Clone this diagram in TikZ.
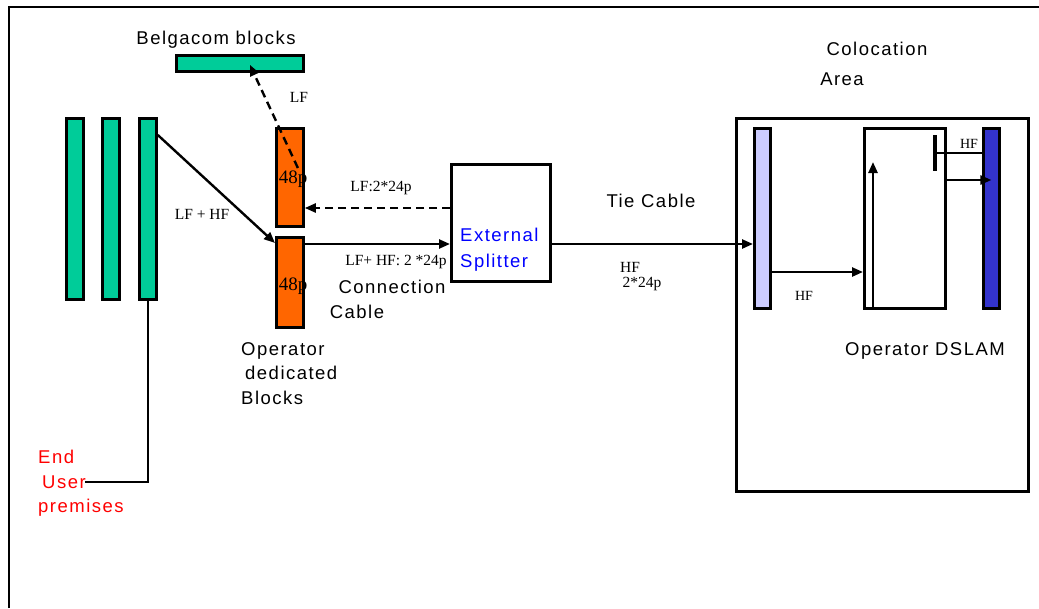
\documentclass[tikz,border=0pt]{standalone}
\usepackage{fontspec}
\setmainfont{Liberation Sans}[LetterSpace=8]
\newfontfamily\smallserif{Liberation Serif}
\usetikzlibrary{positioning, arrows.meta, calc}
\definecolor{blockgreen}{HTML}{00CC99}
\definecolor{blockorange}{HTML}{FF6600}
\definecolor{lilac}{HTML}{CCCCFF}
\definecolor{dslamblue}{HTML}{3333CC}

\begin{document}
\begin{tikzpicture}[
 x=1pt, y=-1pt,
 block/.style={draw, rectangle, line width=2.8pt, inner sep=0pt, anchor=north west},
 greenblock/.style={block, fill=blockgreen},
 orangeblock/.style={block, fill=blockorange},
 txt/.style={inner sep=0pt, font=\fontsize{18.5}{24.5}\selectfont},
 smalltxt/.style={inner sep=0pt, font=\smallserif\fontsize{15.5}{18}\selectfont},
 arrow/.style={-{Triangle[length=11pt, width=9pt]}, line width=2.4pt},
 dasharrow/.style={arrow, dash pattern=on 8pt off 5pt},
 simplearrow/.style={-, line width=2.4pt}
 ]

  \useasboundingbox (0,0) rectangle (1039,608);

  % Page frame
  \draw[line width=2.4pt] (9,608) -- (9,7) -- (1039,7);

  % Belgacom blocks
  \node[greenblock, minimum width=127pt, minimum height=16pt] at (175,54) (bgc) {};
  \node[txt, anchor=base] at (216,44) (bgc_label) {Belgacom blocks};

  % End user lines
  \node[greenblock, minimum width=17pt, minimum height=181pt] at (65,117) (ue1) {};
  \node[greenblock, minimum width=17pt, minimum height=181pt] at (101,117) (ue2) {};
  \node[greenblock, minimum width=17pt, minimum height=181pt] at (138,117) (ue3) {};
  \node[txt, text=red, align=left, anchor=north west] at (38,450) (enduser) {End\\\hspace{4pt}User\\premises};
  \coordinate (eu_end) at (85,482);

  % Operator dedicated blocks
  \node[orangeblock, minimum width=27pt, minimum height=98pt] at (275,127) (opblk1) {};
  \node[orangeblock, minimum width=27pt, minimum height=90pt] at (275,236) (opblk2) {};
  \node[inner sep=0pt, font=\smallserif\fontsize{19}{22}\selectfont, anchor=base] at (293,183) (opblk1_label) {48p};
  \node[inner sep=0pt, font=\smallserif\fontsize{19}{22}\selectfont, anchor=base] at (293,290) (opblk2_label) {48p};
  \node[txt, align=left, anchor=north west] at (241,342) (opblk_label) {Operator\\\hspace{4pt}dedicated\\Blocks};

  % External splitter
  \node[block, minimum width=99pt, minimum height=117pt] at (450,163) (splitter) {};
  \node[txt, text=blue, align=left, anchor=north west] at (460,228) (splitter_label) {External\\[1.5pt]Splitter};

  % Colocation area
  \node[txt, anchor=base] at (877,55) (coloc_label) {Colocation};
  \node[txt, anchor=base] at (842,85) (area_label) {Area};
  \node[block, minimum width=292pt, minimum height=373pt] at (735,117) (coloc) {};
  \node[block, fill=lilac, minimum width=16pt, minimum height=180pt] at (753,127) (mdf) {};
  \node[block, minimum width=81pt, minimum height=180pt] at (863,127) (dslam) {};
  \node[block, fill=dslamblue, minimum width=16pt, minimum height=180pt] at (982,127) (hfbar) {};
  \node[txt, anchor=base] at (925,355) (dslam_label) {Operator DSLAM};

  % Rows of the connectors
  \coordinate (lfrow) at (0,208);
  \coordinate (mainrow) at (0,244);
  \coordinate (hfrow) at (0,272);
  \coordinate (dslrow) at (0,180);
  \coordinate (tbar) at (935,153);

  % End user to operator blocks
  \draw[arrow] ($(ue3.north east)+(0,18)$) -- ($(opblk2.north west)+(0,7)$);
  \node[smalltxt, anchor=base] at (202,219) (lfhf) {LF + HF};
  \draw[simplearrow] (ue3.south) -- (ue3.south |- eu_end) -- (eu_end);

  % LF back to Belgacom
  \draw[dasharrow] ($(opblk1.north)+(8,41)$) -- ($(bgc.south)+(10,-8)$);
  \node[smalltxt, anchor=base] at (299,102) (lf_up) {LF};

  % Splitter connections
  \draw[dasharrow] (splitter.west |- lfrow) -- (opblk1.east |- lfrow);
  \node[smalltxt, anchor=base] at (381,191) (lf_back) {LF:2*24p};
  \draw[arrow] (opblk2.east |- mainrow) -- (splitter.west |- mainrow);
  \node[smalltxt, anchor=base] at (396,265) (lfhf_fwd) {LF+ HF: 2 *24p};
  \node[txt, anchor=base] at (392,293) (conn_label) {Connection};
  \node[txt, anchor=base] at (357,318) (cable_label) {Cable};

  % Tie cable
  \draw[arrow] (splitter.east |- mainrow) -- (mdf.west |- mainrow);
  \node[txt, anchor=base] at (651,207) (tie_label) {Tie Cable};
  \node[smalltxt, anchor=base] at (630,272) (tie_hf) {HF};
  \node[smalltxt, anchor=base] at (642,287) (tie_pairs) {2*24p};

  % Inside the colocation area
  \draw[arrow] (mdf.east |- hfrow) -- (dslam.west |- hfrow);
  \node[smalltxt, font=\smallserif\fontsize{14}{16}\selectfont, anchor=base] at (804,300) (hf_in) {HF};
  \draw[arrow] ($(dslam.south west)+(10,0)$) -- ($(dslam.north west)+(10,35)$);
  \draw[line width=4pt] ($(tbar)+(0,-18)$) -- ($(tbar)+(0,18)$);
  \draw[simplearrow] (tbar) -- (hfbar.west |- tbar);
  \node[smalltxt, font=\smallserif\fontsize{14}{16}\selectfont, anchor=base] at (969,148) (hf_out) {HF};
  \draw[arrow] (dslam.east |- dslrow) -- (hfbar.center |- dslrow);

\end{tikzpicture}
\end{document}
